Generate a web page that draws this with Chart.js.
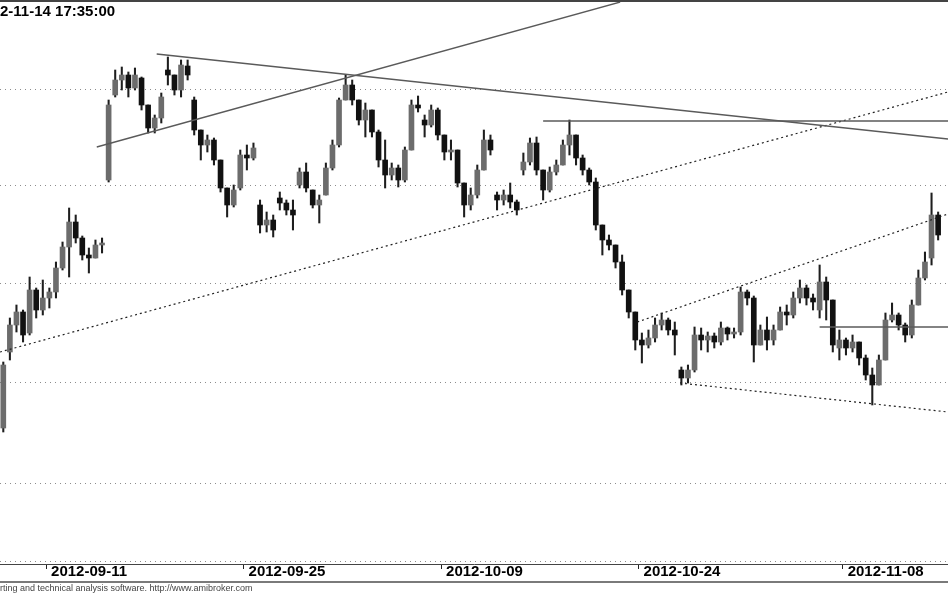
<!DOCTYPE html>
<html>
<head>
<meta charset="utf-8">
<title>Price chart</title>
<script src="https://cdn.jsdelivr.net/npm/chart.js@4.4.0/dist/chart.umd.min.js"></script>
<style>
  html, body { margin: 0; padding: 0; background: #fff; }
  #wrap { width: 948px; height: 593px; }
</style>
</head>
<body>
<div id="wrap"><canvas id="chartBars" width="948" height="593"></canvas></div>
<script>
// one candle per bar index, prices
const opens = [
  17.2, 24.8, 27.5, 28.8, 26.7, 31.0, 29.0, 30.2, 30.8, 33.2,
  35.3, 37.8, 36.2, 34.5, 34.2, 35.5, 42.0, 50.5, 52.0, 52.5,
  51.2, 52.2, 49.5, 47.2, 48.2, 53.0, 52.5, 51.0, 53.4, 50.0,
  47.0, 45.5, 46.0, 44.0, 41.2, 39.5, 41.2, 44.5, 44.2, 39.5,
  37.5, 38.0, 40.2, 39.7, 39.0, 41.5, 42.8, 41.0, 39.5, 40.5,
  43.2, 45.5, 50.0, 51.5, 50.0, 48.0, 49.0, 46.8, 44.0, 42.5,
  43.2, 42.0, 45.0, 49.5, 48.0, 47.5, 49.0, 46.5, 44.8, 45.0,
  41.7, 39.5, 40.5, 43.0, 46.0, 40.5, 40.0, 40.5, 39.8, 43.0,
  43.8, 45.7, 43.0, 41.0, 42.8, 43.5, 45.5, 46.5, 44.2, 43.0,
  41.8, 37.5, 36.0, 35.5, 33.8, 31.0, 28.8, 26.0, 25.5, 26.2,
  27.5, 28.0, 27.0, 23.0, 22.2, 23.0, 26.5, 26.0, 26.4, 25.8,
  27.2, 26.6, 26.8, 30.8, 30.2, 25.5, 27.0, 26.0, 27.0, 28.8,
  28.5, 30.2, 31.2, 30.2, 29.0, 31.8, 30.0, 25.2, 26.0, 25.2,
  25.8, 24.2, 22.5, 21.5, 24.0, 28.0, 28.5, 27.5, 26.5, 29.5,
  32.2, 34.2, 38.5
];
const highs = [
  23.8, 28.2, 29.5, 29.0, 32.3, 31.2, 32.0, 31.2, 33.8, 35.8,
  39.2, 38.5, 36.4, 35.2, 36.0, 36.2, 50.0, 53.0, 53.3, 52.8,
  53.2, 52.3, 49.5, 48.5, 50.7, 54.3, 52.5, 54.0, 54.0, 50.3,
  47.0, 46.5, 46.2, 44.0, 41.2, 41.5, 45.0, 45.5, 45.7, 40.0,
  38.8, 38.5, 40.8, 40.0, 40.0, 43.2, 43.7, 41.0, 40.5, 43.7,
  46.0, 50.2, 52.5, 52.0, 50.0, 49.7, 49.0, 47.0, 46.0, 43.7,
  43.5, 45.3, 50.0, 50.4, 48.5, 49.5, 49.2, 46.5, 46.0, 45.0,
  41.7, 41.2, 43.5, 47.0, 46.5, 40.8, 41.0, 41.7, 40.0, 44.7,
  46.2, 46.3, 43.0, 43.3, 44.0, 46.0, 48.0, 46.5, 44.5, 43.2,
  42.2, 37.5, 36.5, 35.5, 34.5, 31.0, 28.8, 26.7, 27.0, 28.2,
  28.7, 28.2, 27.8, 23.3, 23.5, 27.3, 27.2, 26.8, 26.7, 27.8,
  27.3, 27.2, 31.3, 31.0, 30.4, 27.5, 28.3, 27.5, 29.3, 29.5,
  30.8, 32.0, 31.5, 30.6, 33.5, 32.3, 30.0, 27.0, 26.2, 26.5,
  25.8, 24.5, 23.2, 24.5, 28.7, 29.7, 28.7, 27.7, 30.0, 33.0,
  34.8, 40.7, 38.8
];
const lows = [
  16.8, 24.0, 26.8, 25.8, 26.5, 28.2, 28.5, 29.2, 30.2, 33.0,
  32.3, 35.7, 34.0, 32.7, 34.2, 34.7, 41.8, 50.3, 51.0, 50.3,
  51.0, 49.0, 46.7, 46.7, 47.7, 51.5, 50.5, 50.3, 52.0, 46.5,
  44.0, 44.8, 43.5, 40.8, 38.3, 39.3, 41.0, 43.0, 44.0, 36.7,
  36.8, 36.3, 39.0, 38.5, 37.0, 41.2, 40.8, 39.2, 37.7, 40.5,
  43.0, 45.3, 50.0, 49.5, 47.5, 46.3, 46.3, 43.3, 41.2, 42.0,
  41.3, 41.8, 45.0, 48.8, 46.3, 47.3, 46.0, 44.0, 44.0, 41.3,
  38.3, 39.0, 40.2, 43.0, 44.5, 39.0, 39.5, 39.2, 38.5, 42.5,
  43.5, 42.5, 40.0, 40.8, 42.5, 43.5, 44.5, 43.5, 42.5, 41.5,
  37.0, 34.5, 35.0, 33.2, 30.5, 28.2, 25.0, 23.7, 25.2, 25.8,
  27.0, 26.5, 24.5, 21.5, 21.7, 22.8, 25.0, 24.8, 25.2, 25.5,
  26.0, 26.2, 26.5, 29.5, 23.8, 25.5, 25.0, 25.5, 27.0, 27.5,
  28.2, 29.7, 29.5, 29.0, 28.2, 28.0, 24.8, 24.0, 24.5, 24.8,
  23.5, 22.0, 19.5, 21.5, 24.0, 27.8, 27.0, 25.8, 26.2, 29.5,
  32.0, 33.5, 36.0
];
const closes = [
  23.5, 27.5, 28.8, 26.5, 31.0, 29.0, 30.2, 30.8, 33.2, 35.3,
  37.8, 36.2, 34.5, 34.2, 35.5, 35.7, 49.5, 52.0, 52.5, 51.2,
  52.5, 49.5, 47.2, 48.2, 50.3, 52.5, 51.0, 53.5, 52.5, 47.0,
  45.5, 46.0, 44.0, 41.2, 39.5, 41.0, 44.5, 44.2, 45.2, 37.5,
  38.0, 37.0, 39.7, 39.0, 38.5, 42.8, 41.2, 39.5, 40.0, 43.2,
  45.5, 50.0, 51.5, 50.0, 48.0, 49.0, 46.8, 44.0, 42.5, 43.2,
  42.0, 45.0, 49.5, 49.2, 47.5, 49.0, 46.5, 44.8, 45.0, 41.7,
  39.5, 40.5, 43.0, 46.0, 45.0, 40.0, 40.5, 39.8, 39.0, 43.8,
  45.7, 43.0, 41.0, 42.8, 43.5, 45.5, 46.5, 44.2, 43.0, 41.8,
  37.5, 36.0, 35.5, 33.8, 31.0, 28.8, 26.0, 25.5, 26.2, 27.5,
  28.0, 27.0, 26.5, 22.2, 23.0, 26.5, 26.0, 26.4, 25.8, 27.2,
  26.6, 26.8, 30.8, 30.2, 25.5, 27.0, 26.0, 27.0, 28.8, 28.5,
  30.2, 31.2, 30.2, 29.8, 31.8, 30.0, 25.5, 26.0, 25.2, 25.8,
  24.2, 22.5, 21.5, 24.0, 28.0, 28.5, 27.5, 26.5, 29.5, 32.2,
  33.8, 38.5, 36.5
];

// date labels sit at the start of these bars
const tickBars = [7, 37, 67, 97, 128];
const tickLabels = ["2012-09-11", "2012-09-25", "2012-10-09", "2012-10-24", "2012-11-08"];

// unlabeled horizontal grid levels
const gridLevels = [51.05, 41.47, 31.65, 21.75, 11.66, 3.84];

// drawn trendlines: [startBar, startPrice, endBar, endPrice]
const solidLines = [
  [14.2, 45.3, 93.7, 59.8],
  [23.3, 54.6, 143.5, 46.1],
  [82.0, 47.9, 143.5, 47.9],
  [124.0, 27.3, 143.5, 27.3]
];
const dottedLines = [
  [-0.5, 24.8, 143.5, 50.8],
  [96.3, 27.8, 143.5, 38.6],
  [102.8, 21.7, 143.5, 18.8]
];

const stampText = "2012-11-14 17:35:00";
const footerText = "AmiBroker - charting and technical analysis software. http://www.amibroker.com";

const fontFamily = "Arial, 'Liberation Sans', sans-serif";

const wicks = highs.map((h, i) => ({ x: i, y: [lows[i], h] }));
const bodies = opens.map((o, i) => ({ x: i, y: [o, closes[i]] }));
const bodyColors = opens.map((o, i) => closes[i] >= o ? "#6c6c6c" : "#111111");

function segment(t) {
  return [{ x: t[0], y: t[1] }, { x: t[2], y: t[3] }];
}

const datasets = [
  {
    type: "bar",
    data: wicks,
    backgroundColor: "#1e1e1e",
    barThickness: 1.4,
    grouped: false,
    order: 3
  },
  {
    type: "bar",
    data: bodies,
    backgroundColor: bodyColors,
    barThickness: 5,
    minBarLength: 1.5,
    grouped: false,
    order: 2
  }
];
solidLines.forEach(t => datasets.push({
  type: "line",
  data: segment(t),
  borderColor: "#5a5a5a",
  borderWidth: 1.3,
  pointRadius: 0,
  order: 1
}));
dottedLines.forEach(t => datasets.push({
  type: "line",
  data: segment(t),
  borderColor: "#222222",
  borderWidth: 1.2,
  borderDash: [2, 3],
  pointRadius: 0,
  order: 1
}));

const frame = {
  id: "frame",
  afterDraw(chart) {
    const ctx = chart.ctx;
    ctx.save();
    ctx.fillStyle = "#444";
    ctx.fillRect(0, 0, 948, 2);
    ctx.fillStyle = "#7a7a7a";
    ctx.fillRect(0, 581, 948, 2);

    ctx.fillStyle = "#000";
    ctx.font = "bold 15px " + fontFamily;
    ctx.textBaseline = "alphabetic";
    const cut = ctx.measureText("201").width;
    ctx.fillText(stampText, -cut, 15.5);

    ctx.fillStyle = "#444";
    ctx.font = "9px " + fontFamily;
    const cut2 = ctx.measureText("AmiBroker - cha").width;
    ctx.fillText(footerText, -cut2, 590.5);
    ctx.restore();
  }
};

const config = {
  type: "bar",
  data: { datasets },
  options: {
    responsive: false,
    animation: false,
    layout: { padding: { top: 2, left: 0, right: 0, bottom: 0 } },
    plugins: {
      legend: { display: false },
      tooltip: { enabled: false }
    },
    scales: {
      x: {
        type: "linear",
        min: -0.5,
        max: 143.5,
        offset: false,
        afterBuildTicks: s => { s.ticks = tickBars.map(b => ({ value: b - 0.5 })); },
        afterFit: s => { s.height = 29; },
        ticks: {
          autoSkip: false,
          maxRotation: 0,
          minRotation: 0,
          align: "start",
          labelOffset: 5,
          padding: -6,
          color: "#000",
          font: { family: fontFamily, size: 15, weight: "bold" },
          callback: (v, i) => tickLabels[i]
        },
        grid: { offset: false, drawOnChartArea: false, drawTicks: true, tickLength: 5, color: "#222" },
        border: { display: true, color: "#444", width: 1 }
      },
      y: {
        min: 3.6,
        max: 59.8,
        afterBuildTicks: s => { s.ticks = gridLevels.map(v => ({ value: v })); },
        afterFit: s => { s.width = 0; },
        ticks: { display: false },
        grid: { drawTicks: false, color: "#8c8c8c", lineWidth: 1 },
        border: { display: false, dash: [1, 4] }
      }
    }
  },
  plugins: [frame]
};

var chartBars = new Chart(document.getElementById("chartBars"), config);
</script>
</body>
</html>
